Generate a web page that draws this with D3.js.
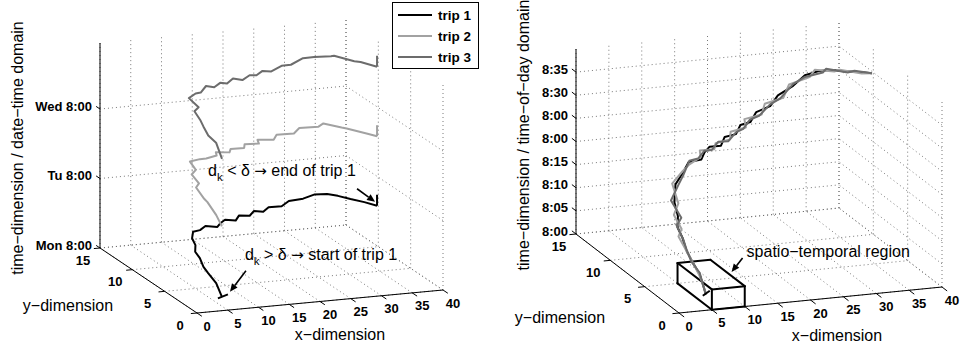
<!DOCTYPE html>
<html>
<head>
<meta charset="utf-8">
<script src="https://cdn.jsdelivr.net/npm/d3@7"></script>
<style>
  html, body { margin: 0; padding: 0; background: #fff; }
  svg { display: block; font-family: "Liberation Sans", Arial, Helvetica, sans-serif; }
</style>
</head>
<body>
<svg id="chart" width="963" height="349"></svg>
<script>
// ---- data -------------------------------------------------------------
// time stamps of the GPS samples, minutes after 8:00 (same sampling for all trips)
const minutes = [0, 0.8, 1.6, 2.2, 2.8, 3.6, 4.6, 6.5, 9.5, 12.5, 14.3, 15.5, 16.3, 16.8,
  17.4, 18.2, 19.2, 20.3, 21.5, 22.9, 24.4, 25.8, 27.9, 29.7, 30.8, 31.8, 32.7, 33.6, 34.6];

const trip1X = [7.0, 8.9, 9.7, 10.2, 11.4, 11.9, 13.1, 13.6, 14.4, 15.0, 16.2, 17.4, 18.4, 19.7,
  20.9, 22.3, 23.5, 24.8, 25.7, 27.1, 28.8, 30.6, 32.6, 34.6, 36.3, 37.2, 38.1, 39.2, 40.0];
const trip1Y = [2.8, 5.5, 7.5, 8.7, 10.4, 11.6, 12.7, 13.7, 14.3, 13.8, 14.1, 13.4, 13.9, 14.4,
  13.9, 14.7, 14.2, 14.8, 14.2, 14.7, 14.3, 14.9, 14.6, 14.8, 14.4, 13.6, 12.5, 11.4, 10.2];

const trip2X = [7.2, 8.6, 9.9, 10.0, 11.1, 12.2, 12.8, 13.9, 14.1, 15.3, 15.9, 17.7, 18.1, 19.9,
  20.6, 22.6, 23.2, 25.1, 25.4, 27.4, 28.5, 30.9, 32.3, 34.9, 36.0, 37.5, 37.8, 39.4, 40.0];
const trip2Y = [3.0, 5.2, 7.8, 8.4, 10.7, 11.3, 13.0, 13.4, 14.5, 14.1, 13.7, 13.8, 14.3, 13.9,
  14.4, 14.2, 14.7, 14.3, 14.8, 14.2, 14.8, 14.4, 14.9, 14.4, 14.7, 13.3, 12.8, 11.1, 10.2];

const trip3X = [6.8, 9.2, 9.4, 10.5, 11.2, 12.1, 13.3, 13.4, 14.6, 14.8, 16.5, 17.1, 18.7, 19.4,
  21.2, 22.0, 23.8, 24.5, 26.0, 26.8, 29.1, 30.3, 32.9, 34.3, 36.6, 36.9, 38.4, 38.9, 40.0];
const trip3Y = [2.6, 5.8, 7.2, 9.0, 10.1, 11.9, 12.4, 14.0, 14.1, 13.5, 14.3, 13.6, 14.2, 13.8,
  14.6, 13.9, 14.5, 14.1, 14.6, 14.0, 14.6, 14.3, 14.9, 14.5, 14.1, 13.9, 12.2, 11.7, 10.2];

const tripNames = ["trip 1", "trip 2", "trip 3"];
const tripColors = ["#000000", "#a2a2a2", "#6c6c6c"];
const dayOffsets = [0, 1, 2];            // trip k starts on day k (Mon, Tu, Wed)

const xTicks = [0, 5, 10, 15, 20, 25, 30, 35, 40];
const yTicks = [0, 5, 10, 15];
const dayTicks = [0, 1, 2];
const dayTickLabels = ["Mon 8:00", "Tu 8:00", "Wed 8:00"];
const minuteTicks = [0, 5, 10, 15, 20, 25, 30, 35];
const minuteTickLabels = ["8:00", "8:05", "8:10", "8:15", "8:00", "8:00", "8:30", "8:35"];

// spatio-temporal query region (x, y, minutes)
const regionX = [5, 10];
const regionY = [0, 5];
const regionT = [0, 4.4];

const trips = [
  { x: trip1X, y: trip1Y },
  { x: trip2X, y: trip2Y },
  { x: trip3X, y: trip3Y }
];

// ---- drawing ----------------------------------------------------------
const svg = d3.select("#chart");
const TICK_FONT = 13;

// oblique 3-D axes: every data axis is mapped to [0,1] by a d3 scale and then
// laid along its own screen direction (origin + u*ex + v*ey + w*ez)
function panel(cfg) {
  const g = svg.append("g");
  const sx = d3.scaleLinear().domain(cfg.xDomain).range([0, 1]);
  const sy = d3.scaleLinear().domain(cfg.yDomain).range([0, 1]);
  const sz = d3.scaleLinear().domain(cfg.zDomain).range([0, 1]);
  const P = (x, y, z) => {
    const u = sx(x), v = sy(y), w = sz(z);
    return [cfg.origin[0] + u * cfg.ex[0] + v * cfg.ey[0] + w * cfg.ez[0],
            cfg.origin[1] + u * cfg.ex[1] + v * cfg.ey[1] + w * cfg.ez[1]];
  };
  const [x0, x1] = cfg.xDomain, [y0, y1] = cfg.yDomain, [z0, z1] = cfg.zDomain;
  const seg = (a, b) => "M" + P(...a) + "L" + P(...b);

  // dotted grid on the floor and the two back walls
  const gridSegs = [];
  cfg.xTicks.forEach(x => { gridSegs.push([[x, y0, z0], [x, y1, z0]]); gridSegs.push([[x, y1, z0], [x, y1, z1]]); });
  cfg.yTicks.forEach(y => { gridSegs.push([[x0, y, z0], [x1, y, z0]]); gridSegs.push([[x1, y, z0], [x1, y, z1]]); });
  cfg.zTicks.forEach(z => { gridSegs.push([[x0, y1, z], [x1, y1, z]]); gridSegs.push([[x1, y0, z], [x1, y1, z]]); });
  g.append("g")
    .attr("fill", "none").attr("stroke", "#6a6a6a").attr("stroke-width", 0.9)
    .attr("stroke-dasharray", "1 3")
    .selectAll("path").data(gridSegs).join("path")
    .attr("d", d => seg(d[0], d[1]));

  // axis lines and tick marks
  const ax = g.append("g").attr("fill", "none").attr("stroke", "#000").attr("stroke-width", 1);
  ax.append("path").attr("d", seg([x0, y0, z0], [x1, y0, z0]));
  ax.append("path").attr("d", seg([x0, y0, z0], [x0, y1, z0]));
  ax.append("path").attr("d", seg([x0, y1, z0], [x0, y1, z1]));
  cfg.xTicks.forEach(x => ax.append("path").attr("d", seg([x, y0, z0], [x, y0 - 0.75, z0])));
  cfg.yTicks.forEach(y => ax.append("path").attr("d", seg([x0, y, z0], [x0 - 1.0, y, z0])));
  cfg.zTicks.forEach(z => ax.append("path").attr("d", seg([x0, y1, z], [x0, y1 + 0.6, z])));

  // tick labels
  const lab = g.append("g").attr("font-weight", "bold").attr("font-size", TICK_FONT).attr("fill", "#000");
  cfg.xTicks.forEach(x => {
    const p = P(x, y0, z0);
    lab.append("text").attr("x", p[0] + 10).attr("y", p[1] + 13)
      .attr("text-anchor", "middle").attr("dominant-baseline", "central").text(x);
  });
  cfg.yTicks.forEach(y => {
    const p = P(x0, y, z0);
    lab.append("text").attr("x", p[0] - 17).attr("y", p[1] + 12)
      .attr("text-anchor", "middle").attr("dominant-baseline", "central").text(y);
  });
  cfg.zTicks.forEach((z, i) => {
    const p = P(x0, y1, z);
    lab.append("text").attr("x", p[0] - 8).attr("y", p[1] - 3)
      .attr("text-anchor", "end").attr("dominant-baseline", "central").text(cfg.zTickLabels[i]);
  });

  // axis titles
  const t = g.append("g").attr("font-size", 16).attr("fill", "#000");
  t.append("text").attr("x", cfg.xTitle[0]).attr("y", cfg.xTitle[1])
    .attr("text-anchor", "middle").attr("dominant-baseline", "central").text("x\u2212dimension");
  t.append("text").attr("x", cfg.yTitle[0]).attr("y", cfg.yTitle[1])
    .attr("text-anchor", "middle").attr("dominant-baseline", "central").text("y\u2212dimension");
  t.append("text").attr("transform", `translate(${cfg.zTitle[0]},${cfg.zTitle[1]}) rotate(-90)`)
    .attr("text-anchor", "middle").attr("dominant-baseline", "central").text(cfg.zTitleText);

  return { g, P };
}

const line = d3.line();

function drawTrips(g, P, zOf) {
  trips.forEach((tr, i) => {
    const pts = tr.x.map((xx, k) => P(xx, tr.y[k], zOf(i, k)));
    g.append("path")
      .attr("d", line(pts))
      .attr("fill", "none")
      .attr("stroke", tripColors[i])
      .attr("stroke-width", 2)
      .attr("stroke-linejoin", "round");
  });
}

function arrow(g, head, tail) {
  const dx = head[0] - tail[0], dy = head[1] - tail[1];
  const len = Math.hypot(dx, dy), ux = dx / len, uy = dy / len;
  const L = 8, W = 3.5;
  const bx = head[0] - ux * L, by = head[1] - uy * L;
  g.append("line").attr("x1", tail[0]).attr("y1", tail[1]).attr("x2", bx).attr("y2", by)
    .attr("stroke", "#000").attr("stroke-width", 1.6);
  g.append("path")
    .attr("d", `M${head[0]},${head[1]}L${bx - uy * W},${by + ux * W}L${bx + uy * W},${by - ux * W}Z`)
    .attr("fill", "#000");
}

function deltaLabel(g, x, y, rel, rest) {
  const tx = g.append("text").attr("x", x).attr("y", y).attr("font-size", 16).attr("fill", "#000");
  tx.append("tspan").text("d");
  tx.append("tspan").attr("dy", 5).attr("font-size", 11.5).text("k");
  tx.append("tspan").attr("dy", -5).text(" " + rel + " \u03b4 ");
  tx.append("tspan").attr("font-family", "DejaVu Sans").attr("font-size", 15).text("\u2192");
  tx.append("tspan").text(" " + rest);
}

// ---- left panel: date-time domain ----
const left = panel({
  origin: [197, 313], ex: [246, -23], ey: [-97, -65], ez: [0, -205],
  xDomain: [0, 40], yDomain: [0, 15], zDomain: [0, 2.95],
  xTicks: xTicks, yTicks: yTicks, zTicks: dayTicks, zTickLabels: dayTickLabels,
  xTitle: [340, 334], yTitle: [68, 305], zTitle: [17, 148],
  zTitleText: "time\u2212dimension / date\u2212time domain"
});
const zDay = (i, k) => dayOffsets[i] + minutes[k] / 60;
drawTrips(left.g, left.P, zDay);

// short vertical stop markers at each trip end, start marker of trip 1
trips.forEach((tr, i) => {
  const n = tr.x.length - 1;
  const p = left.P(tr.x[n], tr.y[n], zDay(i, n));
  left.g.append("line").attr("x1", p[0]).attr("y1", p[1]).attr("x2", p[0]).attr("y2", p[1] - 11)
    .attr("stroke", tripColors[i]).attr("stroke-width", 2);
});
{
  const s = left.P(trip1X[0], trip1Y[0], zDay(0, 0));
  left.g.append("line").attr("x1", s[0] - 4).attr("y1", s[1] + 1.5).attr("x2", s[0] + 6).attr("y2", s[1] - 2.5)
    .attr("stroke", "#000").attr("stroke-width", 2);
  const n = trip1X.length - 1;
  const e = left.P(trip1X[n], trip1Y[n], zDay(0, n));
  arrow(left.g, [e[0] - 2, e[1] - 4], [e[0] - 20, e[1] - 17]);
  deltaLabel(left.g, e[0] - 169, e[1] - 30, "<", "end of trip 1");
  arrow(left.g, [s[0] + 8, s[1] - 5], [s[0] + 24, s[1] - 26]);
  deltaLabel(left.g, s[0] + 23, s[1] - 37, ">", "start of trip 1");
}

// legend
{
  const lg = svg.append("g");
  lg.append("rect").attr("x", 392.5).attr("y", 2.5).attr("width", 86).attr("height", 66)
    .attr("fill", "#fff").attr("stroke", "#000").attr("stroke-width", 1);
  tripNames.forEach((name, i) => {
    const yy = 15 + i * 21;
    lg.append("line").attr("x1", 398).attr("x2", 432).attr("y1", yy).attr("y2", yy)
      .attr("stroke", tripColors[i]).attr("stroke-width", 2);
    lg.append("text").attr("x", 438).attr("y", yy).attr("dominant-baseline", "central")
      .attr("font-size", 13.5).attr("font-weight", "bold").text(name);
  });
}

// ---- right panel: time-of-day domain ----
const right = panel({
  origin: [679, 313], ex: [263, -26], ey: [-103, -79], ez: [0, -185],
  xDomain: [0, 40], yDomain: [0, 15], zDomain: [0, 40],
  xTicks: xTicks, yTicks: yTicks, zTicks: minuteTicks, zTickLabels: minuteTickLabels,
  xTitle: [837, 335], yTitle: [560, 317], zTitle: [523, 135],
  zTitleText: "time\u2212dimension / time\u2212of\u2212day domain"
});

// query box, visible edges only
{
  const [a, b] = regionX, [c, d] = regionY, [lo, hi] = regionT;
  const edges = [
    [[a, c, lo], [b, c, lo]], [[b, c, lo], [b, c, hi]], [[b, c, hi], [a, c, hi]], [[a, c, hi], [a, c, lo]],
    [[a, c, lo], [a, d, lo]], [[a, d, lo], [a, d, hi]], [[a, d, hi], [a, c, hi]],
    [[a, d, hi], [b, d, hi]], [[b, d, hi], [b, c, hi]]
  ];
  right.g.append("g").attr("stroke", "#000").attr("stroke-width", 2).attr("fill", "none")
    .attr("stroke-linecap", "round")
    .selectAll("path").data(edges).join("path")
    .attr("d", e => "M" + right.P(...e[0]) + "L" + right.P(...e[1]));
}
drawTrips(right.g, right.P, (i, k) => minutes[k]);
{
  const s = right.P(trip1X[0], trip1Y[0], minutes[0]);
  right.g.append("line").attr("x1", s[0] - 3).attr("y1", s[1] + 2).attr("x2", s[0] + 4).attr("y2", s[1] - 3)
    .attr("stroke", "#000").attr("stroke-width", 2);
  const m = right.P(regionX[1], (regionY[0] + regionY[1]) / 2, regionT[1]);
  arrow(right.g, [m[0] + 4, m[1] - 1], [m[0] + 15, m[1] - 15]);
  right.g.append("text").attr("x", m[0] + 19).attr("y", m[1] - 16).attr("font-size", 16)
    .text("spatio\u2212temporal region");
}
</script>
</body>
</html>
